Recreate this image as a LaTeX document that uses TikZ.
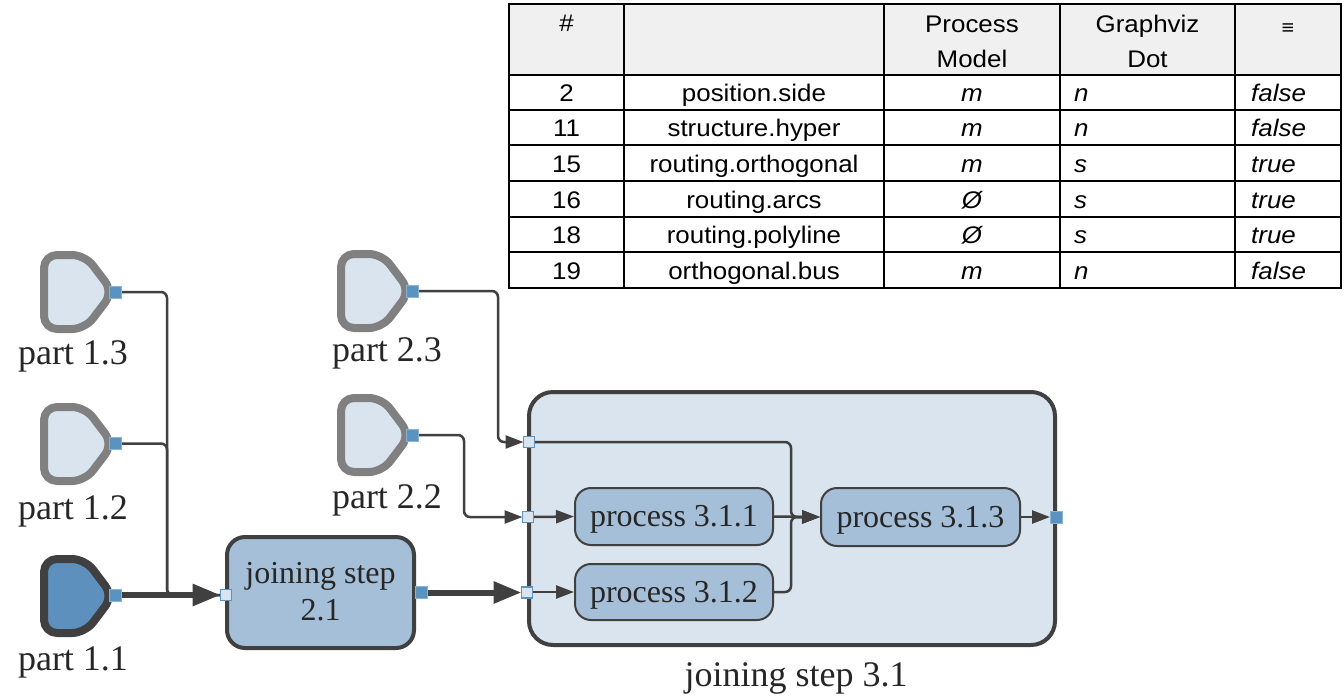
\documentclass[tikz,border=0pt]{standalone}
\usepackage{fontspec}
\setmainfont{Liberation Serif}
\newfontfamily\tabfont[FakeStretch=1.08]{Liberation Sans}
\usetikzlibrary{arrows.meta}
\definecolor{dk}{HTML}{404040}
\definecolor{partgray}{HTML}{808080}
\definecolor{lightblue}{HTML}{DAE4EE}
\definecolor{midblue}{HTML}{A6BFD8}
\definecolor{portblue}{HTML}{5B93C0}
\definecolor{darkfill}{HTML}{5E90BD}
\definecolor{hdrgray}{HTML}{F0F0F0}
\newcommand\partshape[4]{%
  \begin{scope}[shift={(#1,#2)}]
    \draw[line width=8pt, draw=#3, fill=#4, rounded corners=13pt, line join=round]
      (4,-37) -- (45,-37) -- (73,0) -- (45,37) -- (4,37) -- cycle;
  \end{scope}}
\begin{document}
\begin{tikzpicture}[x=1pt,y=-1pt,
  lbl/.style={font=\fontsize{36}{40}\selectfont, text=black!85, anchor=base, inner sep=0pt},
  innertxt/.style={font=\fontsize{32}{36}\selectfont, text=black!85},
  procbox/.style={draw=dk, fill=midblue, line width=2pt, rounded corners=16pt,
    minimum width=198pt, minimum height=57pt, inner sep=0pt, innertxt,
    text height=24pt, text depth=4pt},
  inport/.style={draw=portblue, fill=lightblue, line width=1.5pt, minimum size=11pt, inner sep=0pt},
  outport/.style={draw=portblue!70!white, fill=portblue, line width=1pt, minimum size=12pt, inner sep=0pt},
  thinedge/.style={draw=dk, line width=2.5pt, rounded corners=6pt},
  arr/.style={-{Triangle[length=18pt,width=13pt]}},
  thickedge/.style={draw=dk, line width=6pt, -{Triangle[length=28pt,width=21pt]}},
  tabtxt/.style={font=\tabfont\fontsize{24}{28}\selectfont, inner sep=0pt, anchor=base},
  tabit/.style={font=\tabfont\itshape\fontsize{24}{28}\selectfont, inner sep=0pt, anchor=base}
]
\useasboundingbox (0,0) rectangle (1344,697);

% ---------- table ----------
\fill[hdrgray] (509,4) rectangle (1341,75);
\foreach \yy in {75,110,145,181,217,252}
  \draw[line width=2.5pt] (509,\yy) -- (1341,\yy);
\foreach \xx in {624,884,1060,1235}
  \draw[line width=2.5pt] (\xx,4) -- (\xx,288);
\draw[line width=2.5pt] (509,4) rectangle (1341,288);

\node[tabtxt] (hnum) at (566.5,31) {\#};
\node[tabtxt] (hpm1) at (972,32) {Process};
\node[tabtxt] (hpm2) at (972,67) {Model};
\node[tabtxt] (hgd1) at (1147.5,32) {Graphviz};
\node[tabtxt] (hgd2) at (1147.5,67) {Dot};
\node[tabtxt, font=\tabfont\fontsize{20}{24}\selectfont] (heq) at (1288,34) {≡};

\foreach \n/\nm/\pmv/\gdv/\eqv/\yb in {
  2/position.side/m/n/false/101.5,
  11/structure.hyper/m/n/false/136.5,
  15/routing.orthogonal/m/s/true/172,
  16/routing.arcs/Ø/s/true/208,
  18/routing.polyline/Ø/s/true/243.5,
  19/orthogonal.bus/m/n/false/279}{
  \node[tabtxt] (num\n) at (566.5,\yb) {\n};
  \node[tabtxt] (name\n) at (754,\yb) {\nm};
  \node[tabit] (pm\n) at (972,\yb) {\pmv};
  \node[tabit, anchor=base west] (gd\n) at (1074,\yb) {\gdv};
  \node[tabit, anchor=base west] (eq\n) at (1251,\yb) {\eqv};
}

% ---------- joining step 3.1 ----------
\node[draw=dk, fill=lightblue, line width=4pt, rounded corners=24pt,
  minimum width=526pt, minimum height=253pt, inner sep=0pt] (j31) at (792,518.5) {};
\node[lbl] (j31lbl) at (796,686) {joining step 3.1};

% ---------- joining step 2.1 ----------
\node[draw=dk, fill=midblue, line width=4pt, rounded corners=18pt,
  minimum width=187pt, minimum height=111pt, inner sep=0pt] (j21) at (320.5,592.5) {};
\node[innertxt, anchor=base, inner sep=0pt] (j21a) at (320.5,583) {joining step};
\node[innertxt, anchor=base, inner sep=0pt] (j21b) at (320.5,620) {2.1};

% ---------- processes ----------
\node[procbox] (p311) at (674,516.5) {process 3.1.1};
\node[procbox, minimum height=56pt] (p312) at (674,592) {process 3.1.2};
\node[procbox, minimum width=199pt, minimum height=58pt] (p313) at (920.5,517) {process 3.1.3};

% ---------- parts ----------
\partshape{40}{292}{partgray}{lightblue}
\partshape{40}{444}{partgray}{lightblue}
\partshape{40}{596}{dk}{darkfill}
\partshape{337}{291}{partgray}{lightblue}
\partshape{337}{435}{partgray}{lightblue}
\coordinate (part13) at (75,292);
\coordinate (part12) at (75,444);
\coordinate (part11) at (75,596);
\coordinate (part23) at (372,291);
\coordinate (part22) at (372,435);
\node[lbl] (l13) at (73,364) {part 1.3};
\node[lbl] (l12) at (73,519) {part 1.2};
\node[lbl] (l11) at (73,670) {part 1.1};
\node[lbl] (l23) at (387,361) {part 2.3};
\node[lbl] (l22) at (387,508) {part 2.2};

% ---------- edges ----------
\draw[thinedge] (115,292) -- (167,292) -- (167,595) -- (226,595);
\draw[thinedge] (115,443.5) -- (167,443.5) -- (167,595) -- (226,595);
\draw[thickedge] (121,595) -- (220.5,595);
\draw[thickedge] (427,592.5) -- (521.5,592.5);
\draw[thinedge, arr] (418,291) -- (498,291) -- (498,442) -- (523.5,442);
\draw[thinedge, arr] (418,435) -- (464,435) -- (464,517) -- (522.5,517);
\draw[thinedge, arr] (533.5,517) -- (p311.west);
\draw[thinedge, arr] (532.5,592) -- (p312.west);
\draw[thinedge, arr] (534.5,442) -- (791,442) -- (791,517) -- (p313.west);
\draw[thinedge, arr] (p311.east) -- (p313.west);
\draw[thinedge, arr] (p312.east) -- (791,592) -- (791,517) -- (p313.west);
\draw[thinedge, arr] (p313.east) -- (1050,517);

% ---------- ports ----------
\node[outport] (p13o) at (115,292) {};
\node[outport] (p12o) at (115,443.5) {};
\node[outport] (p11o) at (115,595) {};
\node[outport] (p23o) at (412,291) {};
\node[outport] (p22o) at (412,435) {};
\node[inport] (j21in) at (226,595) {};
\node[outport] (j21out) at (421,592.5) {};
\node[inport] (j31a) at (529,442) {};
\node[inport] (j31b) at (528,517) {};
\node[inport] (j31c) at (527,592.5) {};
\node[outport] (j31out) at (1056,517) {};
\end{tikzpicture}
\end{document}
